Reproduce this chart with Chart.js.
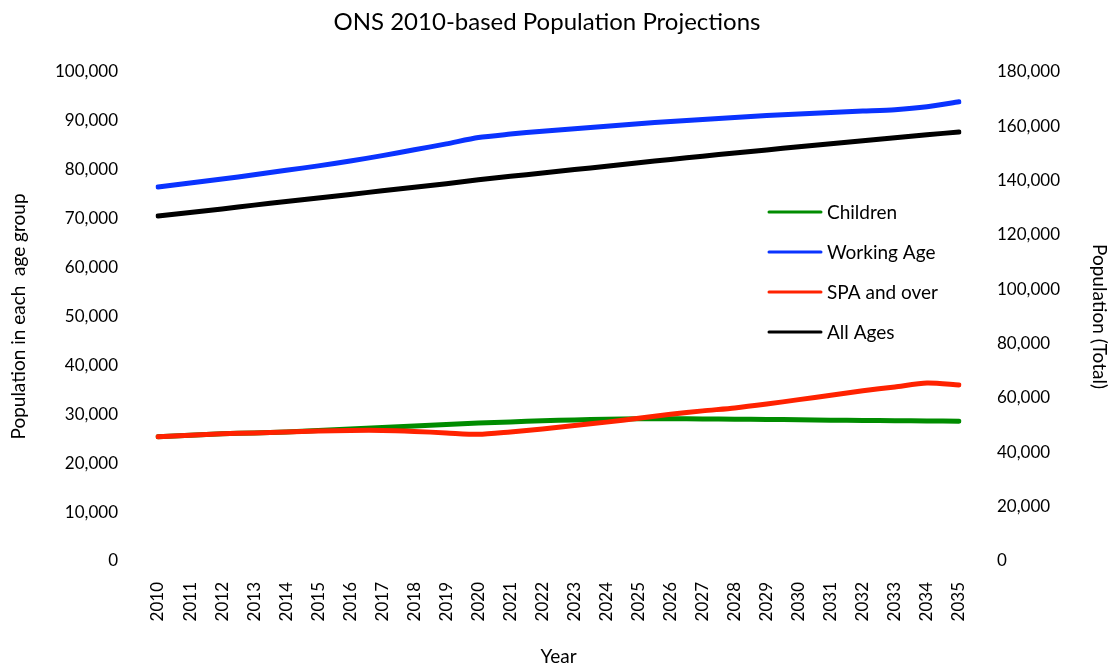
<!DOCTYPE html>
<html>
<head>
<meta charset="utf-8">
<script src="https://cdn.jsdelivr.net/npm/chart.js@4"></script>
<style>
  body { margin: 0; background: #fff; }
  #wrap { width: 1115px; height: 668px; }
</style>
</head>
<body>
<div id="wrap"><canvas id="chart" width="1115" height="668"></canvas></div>
<script>
// ===========data=======================/
const years = ["2010", "2011", "2012", "2013", "2014", "2015", "2016", "2017", "2018", "2019",
  "2020", "2021", "2022", "2023", "2024", "2025", "2026", "2027", "2028", "2029",
  "2030", "2031", "2032", "2033", "2034", "2035"];

const children = [25400, 25700, 26000, 26200, 26400, 26700, 27000, 27300, 27600, 27900,
  28200, 28450, 28700, 28850, 29000, 29100, 29100, 29050, 29000, 28950,
  28900, 28800, 28750, 28700, 28650, 28600];

const workingAge = [76500, 77300, 78100, 79000, 79900, 80800, 81800, 82900, 84100, 85300,
  86600, 87300, 87900, 88400, 88900, 89400, 89900, 90300, 90700, 91100,
  91400, 91700, 92000, 92300, 92900, 93900];

const spaAndOver = [25400, 25700, 26000, 26200, 26400, 26600, 26700, 26700, 26500, 26200,
  25900, 26400, 27000, 27700, 28400, 29200, 30000, 30700, 31300, 32100,
  33000, 33900, 34800, 35600, 36400, 36000];

const allAges = [127000, 128300, 129600, 131000, 132300, 133600, 134900, 136300, 137600, 138900,
  140300, 141600, 142800, 144100, 145300, 146600, 147800, 149000, 150200, 151300,
  152500, 153600, 154700, 155800, 156900, 157900];

const seriesNames = ["Children", "Working Age", "SPA and over", "All Ages"];
const seriesColors = ["#008c00", "#0a33ff", "#ff2200", "#000000"];
const chartTitle = "ONS 2010-based Population Projections";

const FONT = "Lato, 'Open Sans', sans-serif";
const fmt = v => Number(v).toLocaleString('en-US');

//===========title + legend drawn by hand=======================/
const extras = {
  id: 'extras',
  afterDraw(chart) {
    const ctx = chart.ctx;
    ctx.save();
    // title, sits a bit left of the canvas centre like the original
    ctx.font = "24px " + FONT;
    ctx.fillStyle = "#000";
    ctx.textAlign = "center";
    ctx.textBaseline = "middle";
    ctx.fillText(chartTitle, 547, 22);

    // legend inside the plot
    ctx.font = "19px " + FONT;
    ctx.textAlign = "left";
    ctx.lineCap = "round";
    chart.data.datasets.forEach((ds, i) => {
      const y = 212 + i * 40;
      ctx.strokeStyle = ds.borderColor;
      ctx.lineWidth = 3;
      ctx.beginPath();
      ctx.moveTo(769, y);
      ctx.lineTo(821, y);
      ctx.stroke();
      ctx.fillStyle = "#000";
      ctx.fillText(ds.label, 827, y + 1);
    });
    ctx.restore();
  }
};

//===========line chart=======================/
const chart = document.getElementById('chart');
const values = [children, workingAge, spaAndOver, allAges];
const drawOrder = [3, 2, 0, 1];

new Chart(chart, {
  type: 'line',
  data: {
    labels: years,
    datasets: values.map((v, i) => ({
      label: seriesNames[i],
      data: v,
      borderColor: seriesColors[i],
      backgroundColor: seriesColors[i],
      borderWidth: 5,
      borderCapStyle: 'round',
      borderJoinStyle: 'round',
      pointRadius: 0,
      tension: 0.25,
      order: drawOrder[i],
      yAxisID: i === 3 ? 'y2' : 'y'
    }))
  },
  options: {
    responsive: false,
    animation: false,
    layout: { padding: { top: 72 } },
    plugins: {
      legend: { display: false },
      tooltip: { enabled: false },
      title: { display: false }
    },
    scales: {
      x: {
        offset: false,
        grid: { display: false, drawTicks: false },
        border: { display: false },
        ticks: {
          color: '#000',
          font: { family: FONT, size: 17 },
          minRotation: 90,
          maxRotation: 90,
          autoSkip: false,
          padding: 21
        },
        title: {
          display: true,
          text: 'Year',
          color: '#000',
          font: { family: FONT, size: 19 },
          padding: { top: 0, bottom: 0 }
        },
        afterFit: s => { s.height = 107; }
      },
      y: {
        position: 'left',
        min: 0,
        max: 100000,
        grid: { display: false, drawTicks: false },
        border: { display: false },
        ticks: {
          stepSize: 10000,
          color: '#000',
          font: { family: FONT, size: 17 },
          padding: 40,
          callback: v => fmt(v)
        },
        title: {
          display: true,
          text: 'Population in each  age group',
          color: '#000',
          font: { family: FONT, size: 19 },
          padding: { top: 7, bottom: 0 }
        },
        afterFit: s => { s.width = 158; }
      },
      y2: {
        position: 'right',
        min: 0,
        max: 180000,
        grid: { display: false, drawTicks: false },
        border: { display: false },
        ticks: {
          stepSize: 20000,
          color: '#000',
          font: { family: FONT, size: 17 },
          padding: 38,
          callback: v => fmt(v)
        },
        title: {
          display: true,
          text: 'Population (Total)',
          color: '#000',
          font: { family: FONT, size: 19 },
          padding: { top: 4, bottom: 0 }
        },
        afterFit: s => { s.width = 156; }
      }
    }
  },
  plugins: [extras]
});
</script>
</body>
</html>
